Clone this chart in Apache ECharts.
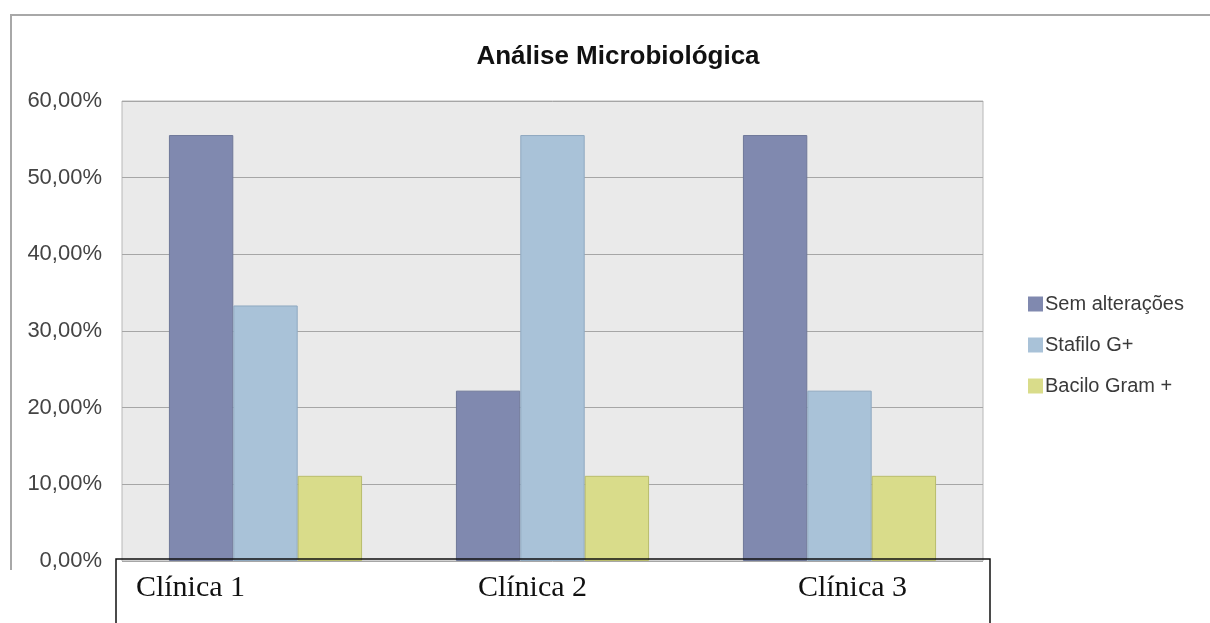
<!DOCTYPE html>
<html>
<head>
<meta charset="utf-8">
<script src="https://cdn.jsdelivr.net/npm/echarts@6/dist/echarts.min.js"></script>
<style>
html,body{margin:0;padding:0;background:#fff;}
#chart{width:1210px;height:623px;}
</style>
</head>
<body>
<div id="chart"></div>
<script>
var categories = ['Clínica 1', 'Clínica 2', 'Clínica 3'];
var seriesNames = ['Sem alterações', 'Stafilo G+', 'Bacilo Gram +'];
var semAlteracoes = [55.56, 22.22, 55.56];
var stafilo = [33.33, 55.56, 22.22];
var bacilo = [11.11, 11.11, 11.11];
var yTicks = [0, 10, 20, 30, 40, 50, 60];
var titleText = 'Análise Microbiológica';

var colors = ['#8089af', '#a9c2d8', '#d9dc8a'];
var borders = ['#6f7899', '#8fa9c0', '#b9bc6c'];
var labelShifts = [[0,150,0,0],[0,40,0,0],[0,0,0,26]];

var chart = echarts.init(document.getElementById('chart'));
var values = [semAlteracoes, stafilo, bacilo];
chart.setOption({
  animation: false,
  title: {
    text: titleText,
    left: 613, top: 39, textAlign: 'center',
    textStyle: {fontFamily: 'Liberation Sans, Arial', fontSize: 26, fontWeight: 'bold', color: '#111'}
  },
  legend: {
    orient: 'vertical', left: 1023, top: 289,
    itemWidth: 15, itemHeight: 15, itemGap: 21,
    icon: 'rect',
    itemStyle: {borderWidth: 0},
    textStyle: {fontFamily: 'Liberation Sans, Arial', fontSize: 20, color: '#3a3a3a', padding: [0,0,0,-3]},
    data: seriesNames
  },
  grid: {
    left: 122, right: 227, top: 101, bottom: 62,
    show: true, backgroundColor: '#eaeaea', borderColor: '#b8b8b8', borderWidth: 1
  },
  xAxis: {
    type: 'category',
    data: categories.map(function(c, i){ return {value: c, textStyle: {padding: labelShifts[i]}}; }),
    axisLine: {show: false}, axisTick: {show: false},
    axisLabel: {fontFamily: 'Liberation Serif, Times New Roman', fontSize: 30, color: '#111', margin: 12, interval: 0}
  },
  yAxis: {
    type: 'value', min: yTicks[0], max: yTicks[yTicks.length-1], interval: 10,
    axisLine: {show: false}, axisTick: {show: false},
    splitLine: {lineStyle: {color: '#a6a6a6', width: 1}},
    axisLabel: {
      fontFamily: 'Liberation Sans, Arial', fontSize: 22, color: '#444', margin: 20,
      formatter: function(v){ return v.toFixed(2).replace('.', ',') + '%'; }
    }
  },
  series: seriesNames.map(function(n, i){
    return {
      name: n, type: 'bar', data: values[i],
      barGap: '0%', barCategoryGap: '32.7%',
      itemStyle: {color: colors[i], borderColor: borders[i], borderWidth: 1}
    };
  }),
  graphic: [
    {type: 'polyline', shape: {points: [[11,570],[11,15],[1215,15]]}, style: {stroke: '#a8a8a8', lineWidth: 2, fill: null}, z: 10},
    {type: 'rect', shape: {x: 116, y: 559, width: 874, height: 80}, style: {stroke: '#111', lineWidth: 1.5, fill: 'transparent'}, z: 10}
  ]
});
</script>
</body>
</html>
